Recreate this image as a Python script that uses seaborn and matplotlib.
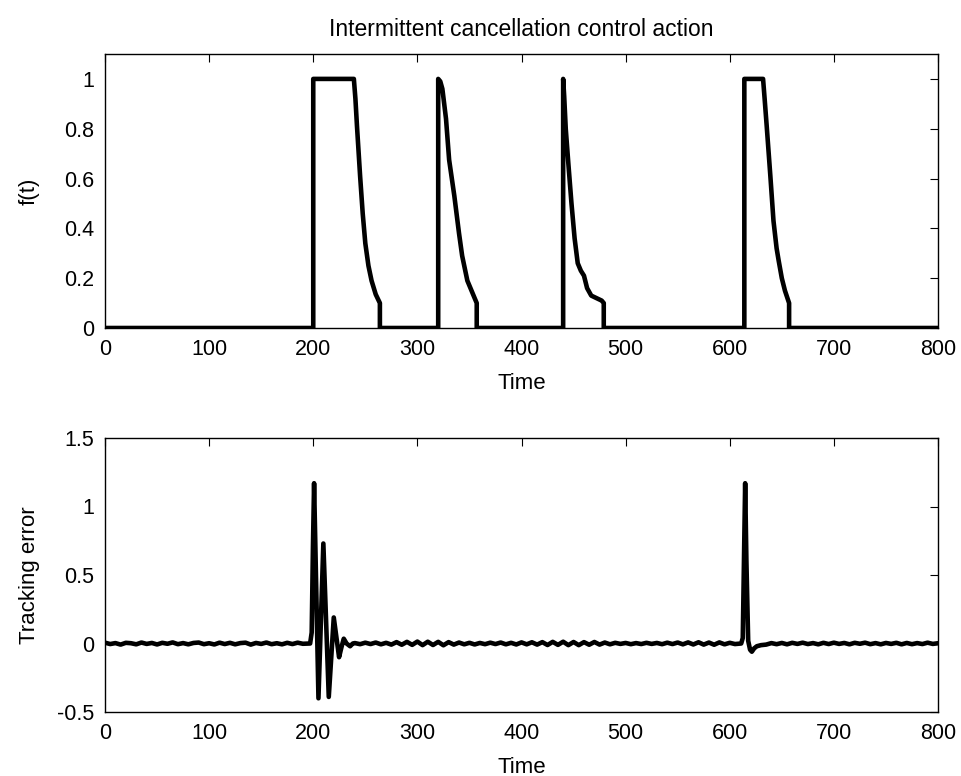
import numpy as np
import pandas as pd
import matplotlib
matplotlib.use("Agg")
import matplotlib.pyplot as plt
import seaborn as sns

# ---------------- data ----------------
title_text = "Intermittent cancellation control action"
x_ticks = [0, 100, 200, 300, 400, 500, 600, 700, 800]
x_tick_labels = ["0", "100", "200", "300", "400", "500", "600", "700", "800"]

top_y_ticks = [0, 0.2, 0.4, 0.6, 0.8, 1.0]
top_y_tick_labels = ["0", "0.2", "0.4", "0.6", "0.8", "1"]
bottom_y_ticks = [-0.5, 0, 0.5, 1.0, 1.5]
bottom_y_tick_labels = ["-0.5", "0", "0.5", "1", "1.5"]

# control action f(t)
f_time = [0, 200, 200, 239, 240.5, 242, 245, 247.5, 250, 253, 256, 260, 264, 264,
          320, 320, 322, 324, 327.5, 330.5, 335.5, 340, 343, 348, 353, 357, 357,
          440, 440, 441, 442.5, 445, 448, 451, 454, 457, 460, 463, 467, 472, 477, 479, 479,
          614, 614, 632, 633.5, 635.5, 639, 642, 645, 647, 650, 653, 657, 657, 800]
f_value = [0, 0, 1, 1, 0.92, 0.81, 0.61, 0.46, 0.34, 0.25, 0.19, 0.135, 0.10, 0,
           0, 1, 0.99, 0.96, 0.84, 0.675, 0.53, 0.38, 0.29, 0.19, 0.14, 0.10, 0,
           0, 1, 0.93, 0.80, 0.66, 0.50, 0.36, 0.26, 0.23, 0.21, 0.16, 0.13, 0.12, 0.11, 0.10, 0,
           0, 1, 1, 0.92, 0.81, 0.61, 0.43, 0.32, 0.27, 0.20, 0.15, 0.10, 0, 0]

# tracking error: quiet stretch before the first burst
e_time_a = [0, 5, 10, 15, 20, 25, 30, 35, 40, 45, 50, 55, 60, 65, 70, 75, 80, 85, 90, 95,
            100, 105, 110, 115, 120, 125, 130, 135, 140, 145, 150, 155, 160, 165, 170, 175,
            180, 185, 190, 195]
e_value_a = [0.006, -0.004, 0.003, -0.008, 0.005, 0.002, -0.006, 0.007, -0.003, 0.004,
             -0.007, 0.005, -0.002, 0.008, -0.005, 0.003, -0.006, 0.004, 0.007, -0.005,
             0.002, -0.007, 0.006, -0.004, 0.005, -0.006, 0.003, 0.006, -0.008, 0.004,
             -0.003, 0.007, -0.005, 0.002, -0.006, 0.005, -0.004, 0.006, -0.002, 0.0]
# first burst (oscillation after the first switch-on)
e_time_b = [197, 198.5, 199.7, 200.8, 202.9, 205, 207.4, 209.7, 212.3, 214.9, 217.3, 219.7,
            222.2, 224.8, 227, 229.3, 232, 235.4, 238]
e_value_b = [0.0, 0.08, 0.7, 1.17, 0.39, -0.40, 0.17, 0.73, 0.17, -0.39, -0.10, 0.19,
             0.045, -0.10, -0.03, 0.035, 0.0, -0.02, 0.0]
# quiet stretch between bursts
e_time_c = [240, 245, 250, 255, 260, 265, 270, 275, 280, 285,
            290, 295, 300, 305, 310, 315, 320, 325, 330, 335,
            340, 345, 350, 355, 360, 365, 370, 375, 380, 385,
            390, 395, 400, 405, 410, 415, 420, 425, 430, 435,
            440, 445, 450, 455, 460, 465, 470, 475, 480, 485,
            490, 495, 500, 505, 510, 515, 520, 525, 530, 535,
            540, 545, 550, 555, 560, 565, 570, 575, 580, 585,
            590, 595, 600, 605]
e_value_c = [0.003, -0.005, 0.006, -0.004, 0.007, -0.006, 0.005, -0.008, 0.010, -0.009,
             0.012, -0.010, 0.014, -0.012, 0.013, -0.011, 0.012, -0.013, 0.010, -0.008,
             0.007, -0.006, 0.005, -0.007, 0.004, -0.005, 0.006, -0.004, 0.007, -0.006,
             0.005, -0.007, 0.008, -0.006, 0.009, -0.008, 0.010, -0.011, 0.012, -0.010,
             0.013, -0.012, 0.011, -0.012, 0.010, -0.009, 0.011, -0.008, 0.007, -0.006,
             0.005, -0.003, 0.004, -0.005, 0.003, -0.004, 0.005, -0.003, 0.004, -0.005,
             0.006, -0.004, 0.007, -0.006, 0.008, -0.007, 0.009, -0.008, 0.007, -0.009,
             0.008, -0.006, 0.005, -0.004]
# second burst (single spike)
e_time_d = [611, 612.5, 613.7, 614.8, 616, 617.7, 619.5, 621.2, 623.5, 626, 630]
e_value_d = [0.0, 0.04, 0.65, 1.17, 0.6, 0.02, -0.045, -0.06, -0.035, -0.02, -0.012]
# quiet stretch to the end
e_time_e = [635, 640, 645, 650, 655, 660, 665, 670, 675, 680,
            685, 690, 695, 700, 705, 710, 715, 720, 725, 730,
            735, 740, 745, 750, 755, 760, 765, 770, 775, 780,
            785, 790, 795, 800]
e_value_e = [-0.008, 0.003, -0.005, 0.004, -0.006, 0.005, -0.003, 0.006, -0.004, 0.003,
             -0.006, 0.005, -0.004, 0.006, -0.003, 0.004, -0.006, 0.005, -0.002, 0.006,
             -0.005, 0.003, -0.006, 0.004, -0.003, 0.005, -0.006, 0.004, -0.005, 0.003,
             -0.004, 0.006, -0.003, 0.002]

e_time = e_time_a + e_time_b + e_time_c + e_time_d + e_time_e
e_value = e_value_a + e_value_b + e_value_c + e_value_d + e_value_e

df_f = pd.DataFrame({"Time": f_time, "f": f_value})
df_e = pd.DataFrame({"Time": e_time, "err": e_value})

# ---------------- style ----------------
sns.set_theme(style="white")
plt.rcParams["font.family"] = ["Liberation Sans", "DejaVu Sans"]
plt.rcParams["axes.unicode_minus"] = False

FS = 15.5
W, H = 961, 776
fig = plt.figure(figsize=(W / 100, H / 100), dpi=100)

def px_axes(left, top, right, bottom):
    return fig.add_axes([left / W, 1 - bottom / H, (right - left) / W, (bottom - top) / H])

ax1 = px_axes(105, 54, 938, 328)
ax2 = px_axes(105, 438, 938, 712)

sns.lineplot(data=df_f, x="Time", y="f", estimator=None, sort=False,
             color="black", linewidth=3.3, ax=ax1)
sns.lineplot(data=df_e, x="Time", y="err", estimator=None, sort=False,
             color="black", linewidth=3.3, ax=ax2)

for ax, yt, ytl, ylim, ylab in [
    (ax1, top_y_ticks, top_y_tick_labels, (0, 1.1), "f(t)"),
    (ax2, bottom_y_ticks, bottom_y_tick_labels, (-0.5, 1.5), "Tracking error"),
]:
    ax.set_xlim(0, 800)
    ax.set_ylim(*ylim)
    ax.set_xticks(x_ticks)
    ax.set_xticklabels(x_tick_labels)
    ax.set_yticks(yt)
    ax.set_yticklabels(ytl)
    ax.tick_params(direction="in", length=6, width=0.8, top=True, right=True,
                   labelsize=FS, pad=8, colors="black")
    for s in ax.spines.values():
        s.set_visible(True)
        s.set_color("black")
        s.set_linewidth(1.0)
    ax.set_xlabel("Time", fontsize=FS + 0.5, labelpad=9, color="black")
    ax.set_ylabel(ylab, fontsize=FS + 0.5, color="black")
    ax.grid(False)
    ax.set_facecolor("white")

ax1.yaxis.set_label_coords(-0.078, 0.5)
ax2.yaxis.set_label_coords(-0.078, 0.5)
ax1.set_title(title_text, fontsize=16.5, pad=13, color="black")

fig.savefig("out.png", dpi=100, facecolor="white")
